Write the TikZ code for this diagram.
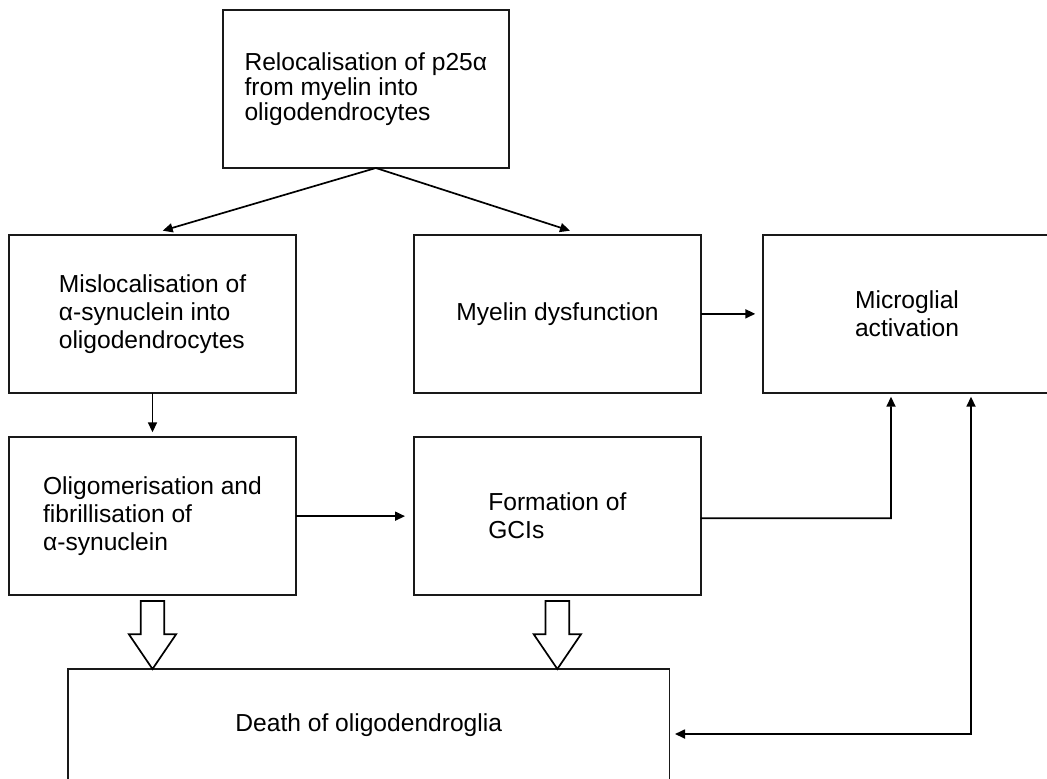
\documentclass[tikz,border=0pt]{standalone}
\usepackage{fontspec}
\setmainfont{Liberation Sans}
\usetikzlibrary{arrows.meta,calc}

% Broad hollow arrow pointing down from one box onto another
\newcommand\hollowdown[2]{%
  \draw[hollow]
    ($(#1.south)+(-11.8,6)$) -- ($(#1.south)+(11.8,6)$) --
    ($(#1.south)+(11.8,39.3)$) -- ($(#1.south)+(23.6,39.3)$) --
    (#1.south |- #2.north) --
    ($(#1.south)+(-23.6,39.3)$) -- ($(#1.south)+(-11.8,39.3)$) -- cycle;}

\begin{document}
\begin{tikzpicture}[x=1pt,y=-1pt,
  box/.style={draw=black!90, line width=1.9pt, rectangle, outer sep=0pt,
    inner sep=0pt, align=left, text=black,
    font=\fontsize{24.6}{28}\selectfont},
  conn/.style={draw=black, line width=1.7pt,
    -{Triangle[length=10pt,width=9pt]}},
  hollow/.style={draw=black, line width=1.7pt, fill=white, line join=miter}]

\useasboundingbox (0,0) rectangle (1047,779);
\clip (0,0) rectangle (1047,779);

% boxes
\node[box, minimum width=286.3pt, minimum height=158pt,
      font=\fontsize{24.6}{25}\selectfont]
  (reloc) at (365.85,89) {Relocalisation of p25α\\from myelin into\\oligodendrocytes};
\node[box, minimum width=286.4pt, minimum height=157.7pt]
  (mis) at (152.5,313.85) {Mislocalisation of\\α-synuclein into\\oligodendrocytes};
\node[box, minimum width=286.4pt, minimum height=157.7pt]
  (myel) at (557.5,313.85) {Myelin dysfunction};
\node[box, minimum width=287.4pt, minimum height=157.7pt]
  (micro) at (907,313.85) {Microglial\\activation};
\node[box, minimum width=286.4pt, minimum height=157.7pt]
  (oli) at (152.5,516.15) {Oligomerisation and\\fibrillisation of\\α-synuclein};
\node[box, minimum width=286.7pt, minimum height=157.7pt]
  (form) at (557.35,516.15) {Formation of\\GCIs};
\node[box, minimum width=601.5pt, minimum height=112pt]
  (death) at (368.75,725) {Death of oligodendroglia};

% connectors
\coordinate (split) at ($(reloc.south)+(10,0)$);
\draw[conn] (split) -- ($(mis.north)+(10.2,-4.3)$);
\draw[conn] (split) -- ($(myel.north)+(12.5,-4.3)$);
\draw[conn, shorten >=5pt] (mis.south) -- (oli.north);
\draw[conn, shorten >=8pt] (myel.east) -- (micro.west |- myel.east);
\draw[conn, shorten >=9pt] (oli.east) -- (form.west |- oli.east);

\coordinate (up1) at (891,518.3);
\draw[conn, shorten >=4pt] ($(form.east)+(0,2.1)$) -- (up1) -- (micro.south -| up1);

\coordinate (loop) at (971,734);
\draw[conn, {Triangle[length=10pt,width=9pt]}-{Triangle[length=10pt,width=9pt]},
      shorten <=4pt, shorten >=5.5pt]
  (micro.south -| loop) -- (loop) -- (death.east |- loop);

\hollowdown{oli}{death}
\hollowdown{form}{death}
\end{tikzpicture}
\end{document}
